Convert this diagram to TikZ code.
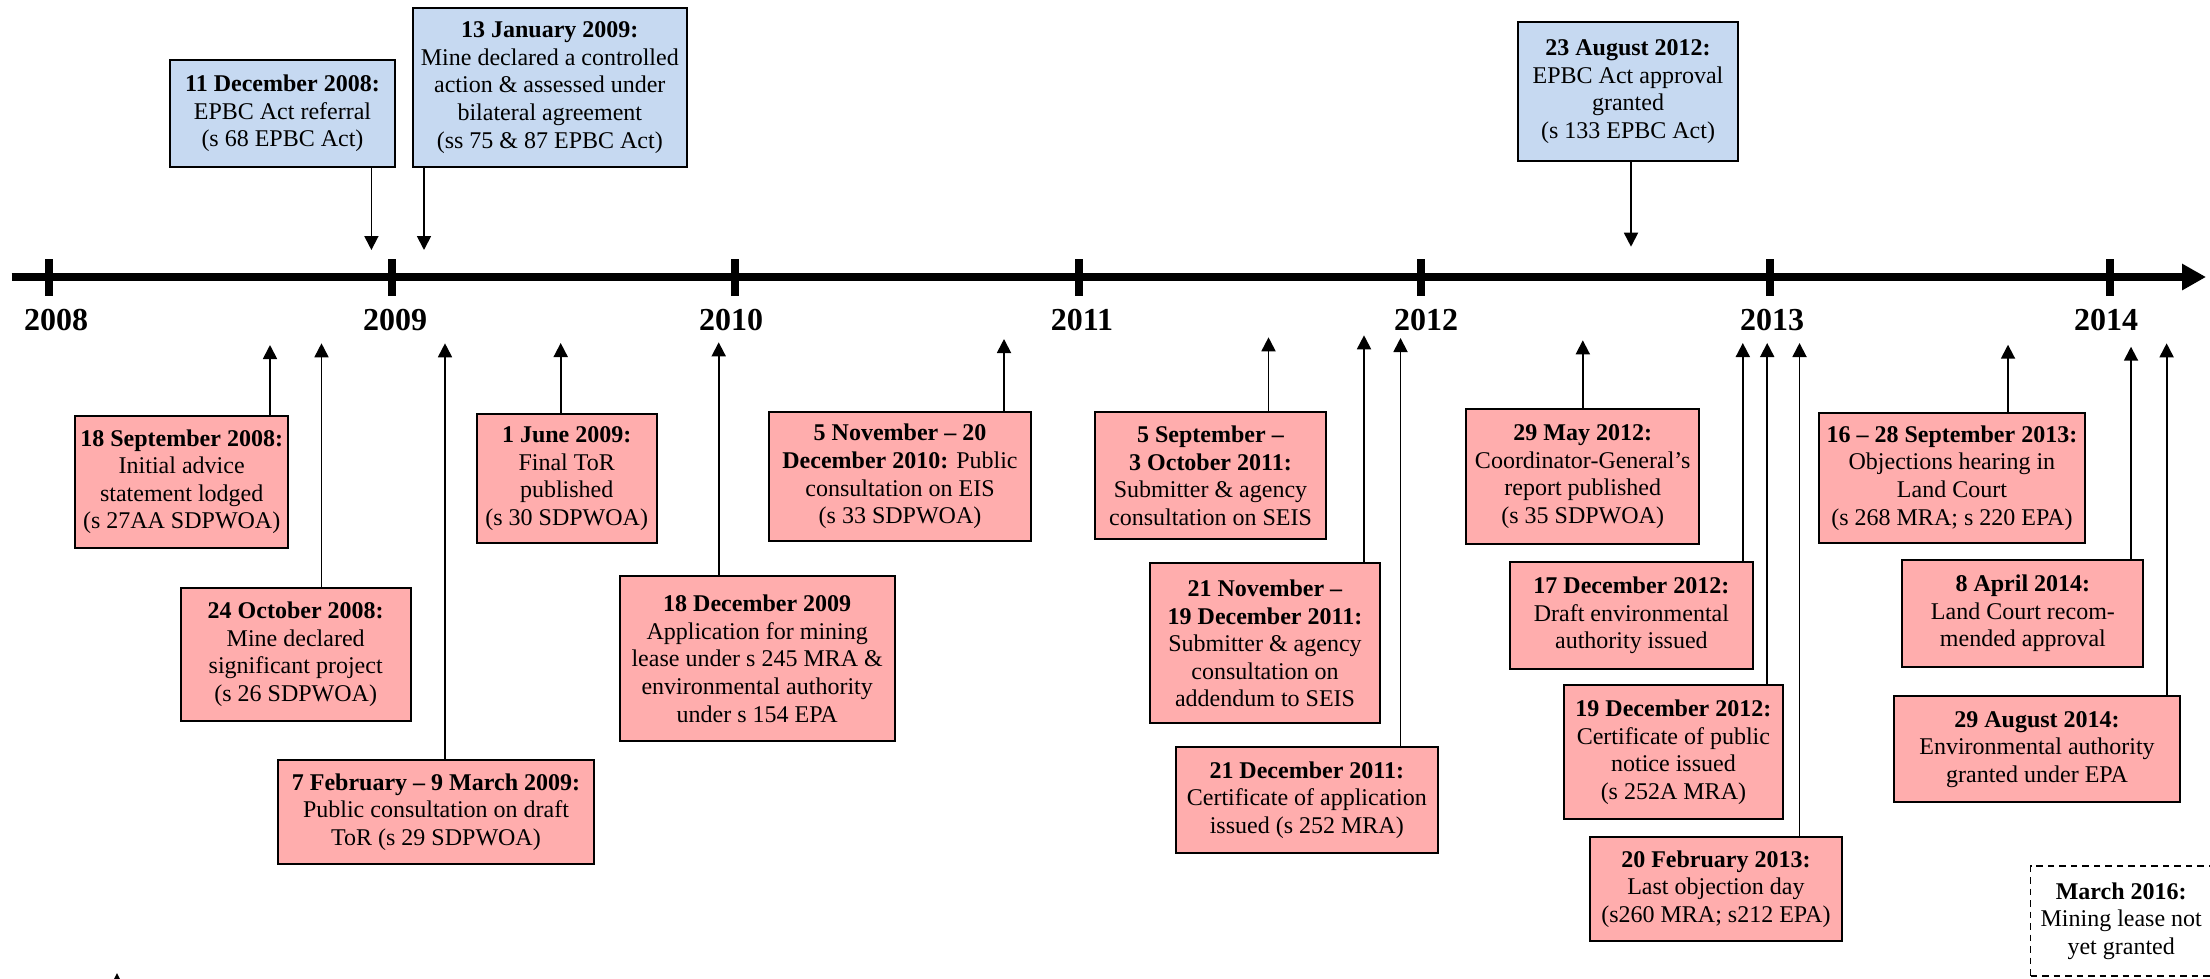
\documentclass[tikz,border=0pt]{standalone}
\usepackage{fontspec}
\setmainfont{Liberation Serif}
\usetikzlibrary{arrows.meta}
\definecolor{boxblue}{RGB}{198,217,241}
\definecolor{boxpink}{RGB}{255,173,173}
\tikzset{
  box/.style={draw=black, line width=2pt, inner sep=2pt, align=center,
    font=\fontsize{24}{27.6}\selectfont},
  bluebox/.style={box, fill=boxblue},
  pinkbox/.style={box, fill=boxpink},
  sz/.style 2 args={minimum width=#1pt, minimum height=#2pt},
  arr/.style={line width=1.8pt, -{Triangle[width=14pt,length=14pt]}},
  axisline/.style={line width=8pt, -{Triangle[width=25pt,length=24pt]}},
  tick/.style={line width=8pt},
  year/.style={font=\fontsize{32}{36}\selectfont\bfseries, anchor=base, inner sep=0pt},
  dashbox/.style={draw=black, line width=1.5pt, dash pattern=on 6.5pt off 5pt,
    inner sep=2pt, align=center, font=\fontsize{24}{27.6}\selectfont}
}
\begin{document}
\begin{tikzpicture}[x=1pt,y=-1pt]
\useasboundingbox (0,0) rectangle (2210,978);
\clip (0,0) rectangle (2210,978);
\fill[white] (0,0) rectangle (2210,978);

% axis
\coordinate (ax0) at (11.7,277);
\coordinate (ax1) at (2206,277);
\draw[axisline] (ax0) -- (ax1);
\foreach \x/\lx/\yr in {49/56/2008,392/395/2009,735/731/2010,1079/1082/2011,1421/1426/2012,1770/1772/2013,2110/2106/2014}{
  \draw[tick] (\x,259) -- (\x,296);
  \node[year] (y\yr) at (\lx,330) {\yr};
}

% blue boxes (above)
\node[bluebox, sz={225}{106.4}] (A) at (282.5,113.5)
  {\textbf{11 December 2008:}\\EPBC Act referral\\(s 68 EPBC Act)};
\node[bluebox, sz={273.6}{158.7}] (B) at (549.8,87.4)
  {\textbf{13 January 2009:}\\Mine declared a controlled\\action \& assessed under\\bilateral agreement\\(ss 75 \& 87 EPBC Act)};
\node[bluebox, sz={220.5}{138.7}] (C) at (1628,91.7)
  {\textbf{23 August 2012:}\\EPBC Act approval\\granted\\(s 133 EPBC Act)};

\coordinate (tA) at (371.4,250);
\coordinate (tB) at (424,250);
\coordinate (tC) at (1631,246.7);
\draw[arr] (A.south -| tA) -- (tA);
\draw[arr] (B.south -| tB) -- (tB);
\draw[arr] (C.south -| tC) -- (tC);

% pink boxes (below)
\node[pinkbox, sz={213.3}{131.9}] (P1) at (181.7,481.7)
  {\textbf{18 September 2008:}\\Initial advice\\statement lodged\\(s 27AA SDPWOA)};
\node[pinkbox, sz={229.9}{132.2}] (P2) at (295.7,654.4)
  {\textbf{24 October 2008:}\\Mine declared\\significant project\\(s 26 SDPWOA)};
\node[pinkbox, sz={315.3}{103.4}] (P3) at (436,812.1)
  {\textbf{7 February – 9 March 2009:}\\Public consultation on draft\\ToR (s 29 SDPWOA)};
\node[pinkbox, sz={180}{128.7}] (P4) at (566.7,478.4)
  {\textbf{1 June 2009:}\\Final ToR\\published\\(s 30 SDPWOA)};
\node[pinkbox, sz={275.2}{165.3}] (P5) at (757.2,658.7)
  {\textbf{18 December 2009}\\Application for mining\\lease under s 245 MRA \&\\environmental authority\\under s 154 EPA};
\node[pinkbox, sz={262.4}{128.2}] (P6) at (900,476.5)
  {\textbf{5 November – 20}\\\textbf{December 2010:} Public\\consultation on EIS\\(s 33 SDPWOA)};
\node[pinkbox, sz={231.2}{127}] (P7) at (1210.5,475.9)
  {\textbf{5 September –}\\\textbf{3 October 2011:}\\Submitter \& agency\\consultation on SEIS};
\node[pinkbox, sz={230.8}{160}] (P8) at (1265,643.4)
  {\textbf{21 November –}\\\textbf{19 December 2011:}\\Submitter \& agency\\consultation on\\addendum to SEIS};
\node[pinkbox, sz={262.4}{105.8}] (P9) at (1306.8,799.9)
  {\textbf{21 December 2011:}\\Certificate of application\\issued (s 252 MRA)};
\node[pinkbox, sz={233.4}{134.3}] (P10) at (1582.7,476.4)
  {\textbf{29 May 2012:}\\Coordinator-General’s\\report published\\(s 35 SDPWOA)};
\node[pinkbox, sz={243.6}{107.1}] (P11) at (1631.4,615.4)
  {\textbf{17 December 2012:}\\Draft environmental\\authority issued};
\node[pinkbox, sz={219}{134.3}] (P12) at (1673.4,752.3)
  {\textbf{19 December 2012:}\\Certificate of public\\notice issued\\(s 252A MRA)};
\node[pinkbox, sz={252}{103.3}] (P13) at (1715.9,889.1)
  {\textbf{20 February 2013:}\\Last objection day\\(s260 MRA; s212 EPA)};
\node[pinkbox, sz={266.1}{129.4}] (P14) at (1951.9,478)
  {\textbf{16 – 28 September 2013:}\\Objections hearing in\\Land Court\\(s 268 MRA; s 220 EPA)};
\node[pinkbox, sz={241.1}{106.6}] (P15) at (2022.9,613.5)
  {\textbf{8 April 2014:}\\Land Court recom-\\mended approval};
\node[pinkbox, sz={285.5}{106.2}] (P16) at (2037,749.2)
  {\textbf{29 August 2014:}\\Environmental authority\\granted under EPA};

\node[dashbox, sz={181}{110}] (D) at (2121.2,921)
  {\textbf{March 2016:}\\Mining lease not\\yet granted};

% up arrows
\foreach \n/\x/\y in {P1/270/345,P2/321.5/343.3,P3/445/343.3,P4/560.7/343,P5/718.7/342.3,
  P6/1004/339,P7/1268.5/337.3,P8/1364/335.3,P9/1400.5/338,P10/1582.8/340.3,
  P11/1742.8/343,P12/1767.2/343,P13/1799.5/343,P14/2008/344.7,P15/2131/346.7,P16/2166.6/343.3}{
  \coordinate (t\n) at (\x,\y);
  \draw[arr] (\n.north -| t\n) -- (t\n);
}

% fragment of an arrowhead at the lower edge
\fill[black] (117,973) -- (112,983) -- (122,983) -- cycle;
\end{tikzpicture}
\end{document}
